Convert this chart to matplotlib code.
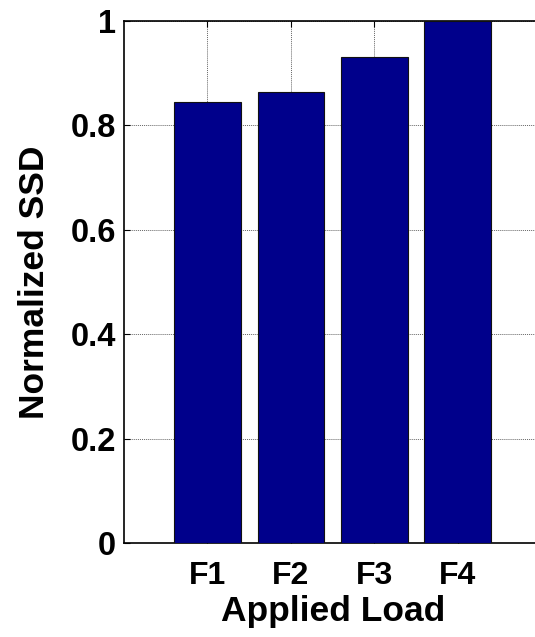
import matplotlib
matplotlib.use('Agg')
import matplotlib.pyplot as plt

loads = ['F1', 'F2', 'F3', 'F4']
ssd = [0.845, 0.863, 0.930, 1.0]
yticks = [0, 0.2, 0.4, 0.6, 0.8, 1]
ytick_labels = ['0', '0.2', '0.4', '0.6', '0.8', '1']

plt.rcParams['font.family'] = ['Liberation Sans', 'DejaVu Sans']
plt.rcParams['font.weight'] = 'bold'

fig = plt.figure(figsize=(5.35, 6.37), dpi=100)
ax = fig.add_axes([0.2318, 0.1476, 0.780, 0.82])

x = range(1, len(loads) + 1)
ax.bar(x, ssd, width=0.8, color='#00008B', edgecolor='#111111', linewidth=0.8, zorder=3)

ax.set_xlim(0, 5)
ax.set_ylim(0, 1)
ax.set_xticks(list(x))
ax.set_xticklabels(loads, fontsize=23, fontweight='bold')
ax.set_yticks(yticks)
ax.set_yticklabels(ytick_labels, fontsize=23.5, fontweight='bold')
ax.tick_params(direction='in', length=4, width=0.8, top=True)
ax.tick_params(axis='x', pad=13)
ax.tick_params(axis='y', pad=6)
ax.grid(True, linestyle=(0, (1, 1)), color='#666666', linewidth=0.7, zorder=0)

for s in ['top', 'left', 'bottom']:
    ax.spines[s].set_linewidth(1.2)
ax.spines['right'].set_visible(False)

ax.set_xlabel('Applied Load', fontsize=25.5, fontweight='bold', labelpad=3)
ax.set_ylabel('Normalized SSD', fontsize=25.5, fontweight='bold', labelpad=14)

fig.savefig('out.png', dpi=100)
